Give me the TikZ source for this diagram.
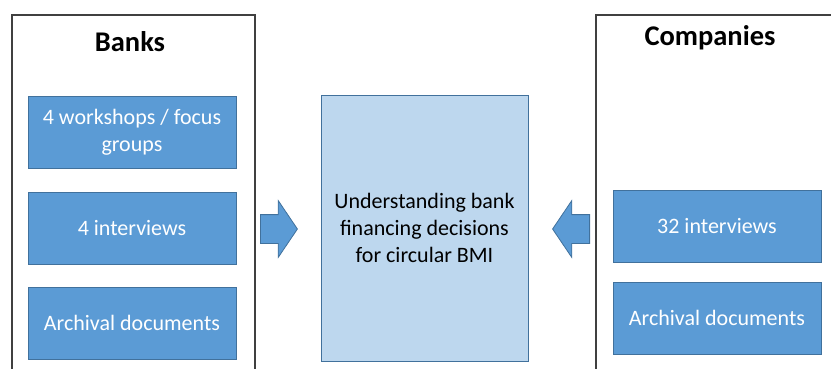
\documentclass[tikz,border=0pt]{standalone}
\usepackage{fontspec}
\setmainfont{Carlito}
\usetikzlibrary{shapes, shapes.arrows}

\definecolor{boxblue}{HTML}{5B9BD5}
\definecolor{boxedge}{HTML}{41719C}
\definecolor{paleblue}{HTML}{BDD7EE}
\definecolor{framegray}{HTML}{404040}

\begin{document}
\begin{tikzpicture}[x=1pt, y=1pt,
  frame/.style={rectangle, draw=framegray, line width=1.5pt, minimum width=#1, minimum height=380pt, anchor=north west, inner sep=0pt},
  title/.style={font=\fontsize{28.5}{30}\selectfont\bfseries},
  source/.style={rectangle, draw=boxedge, line width=0.8pt, fill=boxblue, text=white, minimum width=208pt, minimum height=72pt, align=center, font=\fontsize{22}{27}\selectfont},
  flow/.style={single arrow, draw=boxedge, line width=0.8pt, fill=boxblue, inner xsep=0pt, inner ysep=14pt, minimum height=37pt, single arrow head extend=14pt, single arrow tip angle=112, anchor=tail}]
\useasboundingbox (0, 0) rectangle (831, 368);

\node[frame=243pt] (banks) at (11, 354) {};
\node[frame=260pt] (companies) at (595, 354) {};

\node[title] (bankstitle) at (130, 326) {Banks};
\node[title] (companiestitle) at (710, 330) {Companies};

\node[source] (workshops) at (132, 236) {4 workshops / focus\\groups};
\node[source] (bankint) at (132, 140) {4 interviews};
\node[source] (bankdocs) at (132, 45) {Archival documents};

\node[source] (compint) at (717, 142) {32 interviews};
\node[source] (compdocs) at (717, 50) {Archival documents};

\node[rectangle, draw=boxedge, line width=0.8pt, fill=paleblue, minimum width=207pt, minimum height=266pt, align=center, font=\fontsize{22}{27}\selectfont] (goal) at (424.5, 140) {Understanding bank\\financing decisions\\for circular BMI};

\node[flow] (inleft) at (260, 139) {};
\node[flow, shape border rotate=180] (inright) at (590, 139) {};
\end{tikzpicture}
\end{document}
